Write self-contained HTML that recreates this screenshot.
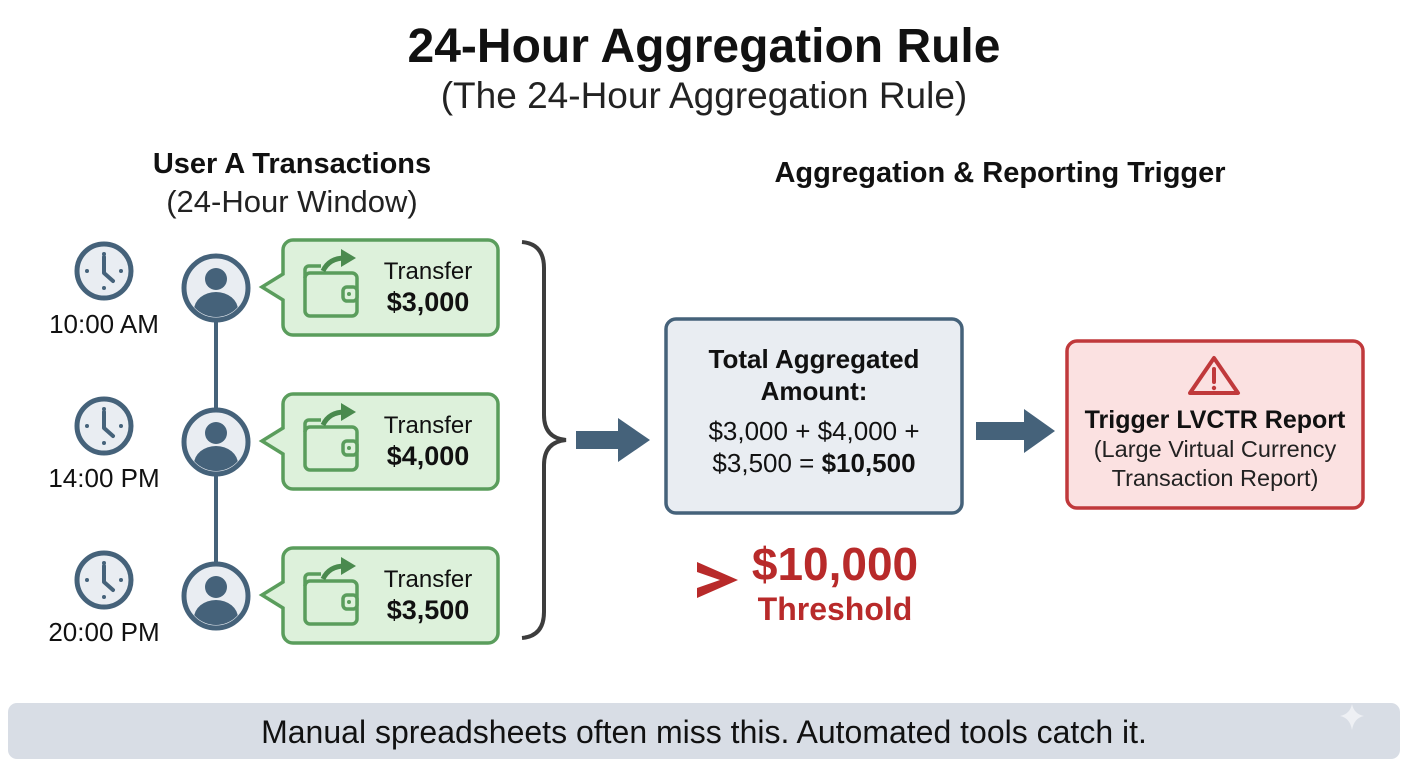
<!DOCTYPE html>
<html><head><meta charset="utf-8"><style>
html,body{margin:0;padding:0;background:#fff;}
svg{display:block;font-family:"Liberation Sans",sans-serif;}
</style></head><body>
<svg width="1408" height="768" viewBox="0 0 1408 768" xmlns="http://www.w3.org/2000/svg">
<defs>
<g id="clock">
<circle r="27" fill="#e9edf2" stroke="#45627a" stroke-width="5"/>
<circle cx="0" cy="-17" r="2" fill="#45627a"/><circle cx="0" cy="17" r="2" fill="#45627a"/>
<circle cx="-17" cy="0" r="2" fill="#45627a"/><circle cx="17" cy="0" r="2" fill="#45627a"/>
<path d="M0,-14 V2 L9,10" fill="none" stroke="#45627a" stroke-width="4" stroke-linecap="round" stroke-linejoin="round"/>
</g>
<g id="avatar">
<circle r="32" fill="#e9edf2" stroke="#45627a" stroke-width="5"/>
<clipPath id="ac"><circle r="29"/></clipPath>
<circle cx="0" cy="-9" r="11" fill="#45627a"/>
<ellipse cx="0" cy="22" rx="22" ry="18" fill="#45627a" clip-path="url(#ac)"/>
</g>
<g id="card">
<path d="M10,0 H205 a10,10 0 0 1 10,10 V85 a10,10 0 0 1 -10,10 H10 a10,10 0 0 1 -10,-10 V60 L-21,47 L0,34 V10 a10,10 0 0 1 10,-10 Z" fill="#ddf1db" stroke="#5a9d5c" stroke-width="3.5"/>
<rect x="22" y="33" width="52" height="43" rx="5" fill="none" stroke="#5a9d5c" stroke-width="3.5"/>
<path d="M22,38 V30 a4,4 0 0 1 4,-4 H38" fill="none" stroke="#5a9d5c" stroke-width="3.5"/>
<rect x="60" y="47" width="14" height="14" rx="4" fill="#ddf1db" stroke="#5a9d5c" stroke-width="3.5"/>
<circle cx="66" cy="54" r="2" fill="#5a9d5c"/>
<path d="M40,31 Q46,18 62,18" fill="none" stroke="#4a8a4e" stroke-width="5"/>
<path d="M58,9 L73,18 L58,27 Z" fill="#4a8a4e"/>
<text x="145" y="39" font-size="24" text-anchor="middle" fill="#111">Transfer</text>
</g>
</defs>

<text x="704" y="62" font-size="48" font-weight="bold" text-anchor="middle" fill="#111">24-Hour Aggregation Rule</text>
<text x="704" y="108" font-size="37" text-anchor="middle" fill="#222">(The 24-Hour Aggregation Rule)</text>

<text x="292" y="173" font-size="29" font-weight="bold" text-anchor="middle" fill="#111">User A Transactions</text>
<text x="292" y="212" font-size="31" text-anchor="middle" fill="#222">(24-Hour Window)</text>
<text x="1000" y="182" font-size="29" font-weight="bold" text-anchor="middle" fill="#111">Aggregation &amp; Reporting Trigger</text>

<line x1="216" y1="288" x2="216" y2="596" stroke="#45627a" stroke-width="4"/>

<use href="#clock" x="104" y="271"/><use href="#clock" x="104" y="426"/><use href="#clock" x="104" y="580"/>
<text x="104" y="333" font-size="26" text-anchor="middle" fill="#111">10:00 AM</text>
<text x="104" y="487" font-size="26" text-anchor="middle" fill="#111">14:00 PM</text>
<text x="104" y="641" font-size="26" text-anchor="middle" fill="#111">20:00 PM</text>

<use href="#avatar" x="216" y="288"/><use href="#avatar" x="216" y="442"/><use href="#avatar" x="216" y="596"/>

<g transform="translate(283,240)"><use href="#card"/><text x="145" y="71" font-size="27" font-weight="bold" text-anchor="middle" fill="#111">$3,000</text></g>
<g transform="translate(283,394)"><use href="#card"/><text x="145" y="71" font-size="27" font-weight="bold" text-anchor="middle" fill="#111">$4,000</text></g>
<g transform="translate(283,548)"><use href="#card"/><text x="145" y="71" font-size="27" font-weight="bold" text-anchor="middle" fill="#111">$3,500</text></g>

<path d="M522,242 Q544,244 544,268 V415 Q544,438 566,440 Q544,442 544,465 V612 Q544,636 522,638" fill="none" stroke="#3d3d3d" stroke-width="4"/>

<path d="M576,431 H618 V418 L650,440 L618,462 V449 H576 Z" fill="#45627a"/>
<path d="M976,422 H1024 V409 L1055,431 L1024,453 V440 H976 Z" fill="#45627a"/>

<rect x="666" y="319" width="296" height="194" rx="10" fill="#e9edf2" stroke="#45627a" stroke-width="3.5"/>
<text x="814" y="368" font-size="26" font-weight="bold" text-anchor="middle" fill="#111">Total Aggregated</text>
<text x="814" y="400" font-size="26" font-weight="bold" text-anchor="middle" fill="#111">Amount:</text>
<text x="814" y="440" font-size="26" text-anchor="middle" fill="#111">$3,000 + $4,000 +</text>
<text x="814" y="472" font-size="26" text-anchor="middle" fill="#111">$3,500 = <tspan font-weight="bold">$10,500</tspan></text>

<rect x="1067" y="341" width="296" height="167" rx="10" fill="#fbe1e1" stroke="#c0393b" stroke-width="3.5"/>
<path d="M1214,358 L1238,393 H1190 Z" fill="none" stroke="#c0393b" stroke-width="4" stroke-linejoin="round"/>
<line x1="1214" y1="369" x2="1214" y2="382" stroke="#c0393b" stroke-width="4" stroke-linecap="round"/>
<circle cx="1214" cy="388" r="2.2" fill="#c0393b"/>
<text x="1215" y="428" font-size="25" font-weight="bold" text-anchor="middle" fill="#111">Trigger LVCTR Report</text>
<text x="1215" y="457" font-size="23.5" text-anchor="middle" fill="#222">(Large Virtual Currency</text>
<text x="1215" y="486" font-size="23.5" text-anchor="middle" fill="#222">Transaction Report)</text>

<path d="M697,562 L738,580 L697,598 V588 L720,580 L697,572 Z" fill="#b82a2a"/>
<text x="835" y="580" font-size="46" font-weight="bold" text-anchor="middle" fill="#b82a2a">$10,000</text>
<text x="835" y="620" font-size="32" font-weight="bold" text-anchor="middle" fill="#b82a2a">Threshold</text>

<rect x="8" y="703" width="1392" height="56" rx="9" fill="#d8dde5"/>
<text x="704" y="743" font-size="32" text-anchor="middle" fill="#111">Manual spreadsheets often miss this. Automated tools catch it.</text>
<path d="M1352,704 Q1354,714 1364,716 Q1354,718 1352,730 Q1350,718 1340,716 Q1350,714 1352,704 Z" fill="#eef0f4"/>
</svg>
</body></html>
